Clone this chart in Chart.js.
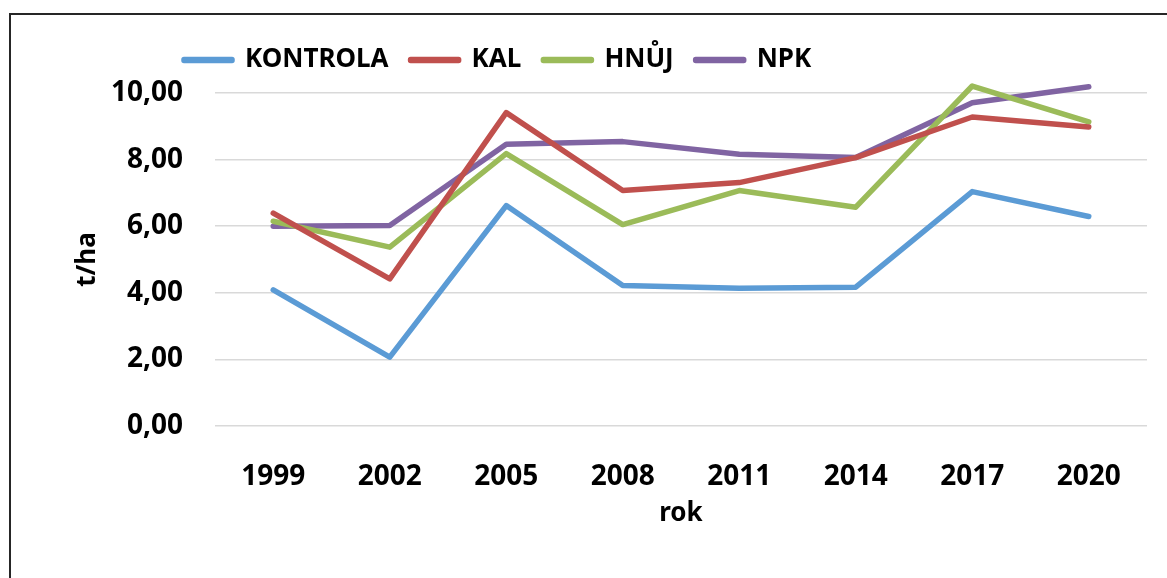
<!DOCTYPE html>
<html>
<head>
<meta charset="utf-8">
<script src="https://cdn.jsdelivr.net/npm/chart.js@4"></script>
<style>
    body { margin: 0; background: #fff; overflow: hidden; }
    #frame { position: absolute; left: 9px; top: 13px; width: 1300px; height: 700px;
             border-left: 2px solid #262626; border-top: 2px solid #262626; }
    #wrap { position: absolute; left: 0; top: 0; width: 1167px; height: 578px; }
</style>
</head>
<body>
<div id="frame"></div>
<div id="wrap"><canvas id="chart"></canvas></div>
<script>
let years = ["1999", "2002", "2005", "2008", "2011", "2014", "2017", "2020"];

let kontrola = [4.09, 2.07, 6.62, 4.22, 4.14, 4.17, 7.04, 6.29];
let kal      = [6.39, 4.42, 9.41, 7.07, 7.31, 8.06, 9.28, 8.98];
let hnuj     = [6.15, 5.37, 8.18, 6.05, 7.07, 6.57, 10.21, 9.13];
let npk      = [6.00, 6.02, 8.46, 8.54, 8.16, 8.06, 9.71, 10.19];

let names  = ["KONTROLA", "KAL", "HNŮJ", "NPK"];
let colors = ["#5B9BD5", "#C0504D", "#9BBB59", "#8064A2"];

Chart.defaults.font.family = "'Noto Sans', sans-serif";
Chart.defaults.font.weight = "bold";
Chart.defaults.font.size = 26;
Chart.defaults.color = "#000";

function line(label, data, color) {
    return {
        label: label,
        data: data,
        borderColor: color,
        backgroundColor: color,
        borderWidth: 5.5,
        borderCapStyle: "round",
        borderJoinStyle: "round",
        pointRadius: 0,
        tension: 0,
        clip: false
    };
}

/* move the legend to where Excel put it */
let legendShift = {
    id: "legendShift",
    afterLayout(chart) {
        chart.legend.left = 162;
        chart.legend.top = 25;
    }
};

new Chart(document.getElementById("chart"), {
    type: "line",
    data: {
        labels: years,
        datasets: [
            line(names[0], kontrola, colors[0]),
            line(names[1], kal, colors[1]),
            line(names[2], hnuj, colors[2]),
            line(names[3], npk, colors[3])
        ]
    },
    options: {
        responsive: true,
        maintainAspectRatio: false,
        animation: false,
        layout: { padding: { left: 0, right: 20, top: 35, bottom: 0 } },
        plugins: {
            tooltip: { enabled: false },
            legend: {
                position: "top",
                align: "start",
                labels: { boxWidth: 48, boxHeight: 1, padding: 22 }
            }
        },
        scales: {
            x: {
                offset: true,
                grid: { display: false },
                border: { display: false },
                ticks: { padding: 26, font: { size: 28 } },
                title: { display: true, text: "rok", padding: { top: 0, bottom: 49 } },
                afterFit(s) { s.height = 152; }
            },
            y: {
                min: 0,
                max: 10,
                grid: { color: "#d9d9d9", lineWidth: 1.5, drawTicks: false },
                border: { display: false },
                ticks: {
                    stepSize: 2,
                    padding: 32,
                    font: { size: 28 },
                    callback: v => v.toFixed(2).replace(".", ",")
                },
                title: { display: true, text: "t/ha", padding: { top: 72, bottom: 0 } },
                afterFit(s) { s.width = 215; }
            }
        }
    },
    plugins: [legendShift]
});
</script>
</body>
</html>
